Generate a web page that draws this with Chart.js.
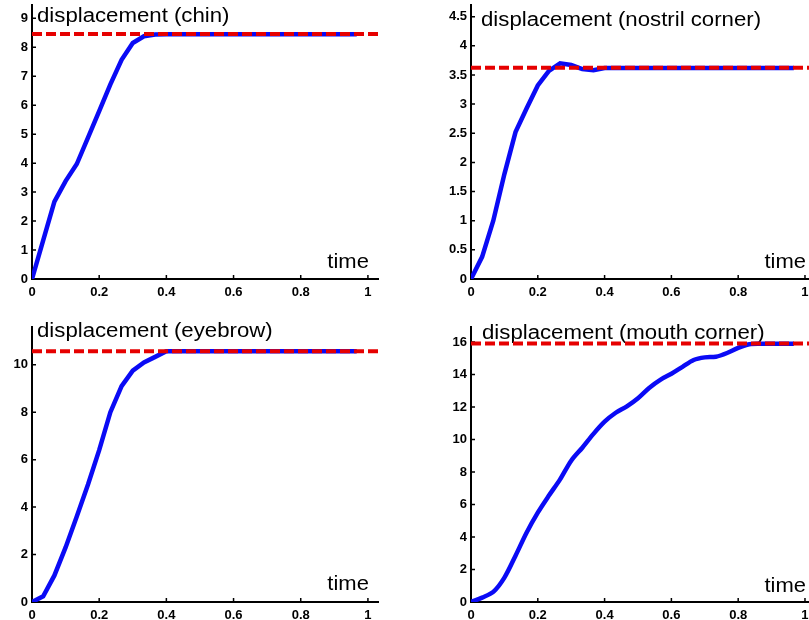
<!DOCTYPE html>
<html>
<head>
<meta charset="utf-8">
<script src="https://cdn.jsdelivr.net/npm/chart.js@4.4.1/dist/chart.umd.min.js"></script>
<style>
  html, body { margin: 0; padding: 0; background: #fff; overflow: hidden; width: 809px; height: 620px; }
  canvas { position: absolute; }
</style>
</head>
<body>
<canvas id="chin" width="400" height="306" style="left:0px;top:0px"></canvas>
<canvas id="nostril" width="398" height="306" style="left:439px;top:0px"></canvas>
<canvas id="eyebrow" width="400" height="320" style="left:0px;top:300px"></canvas>
<canvas id="mouth" width="398" height="320" style="left:439px;top:300px"></canvas>
<script>
// time samples of the tracked curves
const time = [0, 0.0333, 0.0667, 0.1, 0.1333, 0.1667, 0.2, 0.2333, 0.2667, 0.3,
  0.3333, 0.3667, 0.4, 0.4333, 0.4667, 0.5, 0.5333, 0.5667, 0.6, 0.6333,
  0.6667, 0.7, 0.7333, 0.7667, 0.8, 0.8333, 0.8667, 0.9, 0.9333, 0.9667];

// displacement curves (blue)
const chin = [0, 1.33, 2.67, 3.38, 3.97, 4.88, 5.8, 6.72, 7.57, 8.15,
  8.38, 8.44, 8.45, 8.45, 8.45, 8.45, 8.45, 8.45, 8.45, 8.45,
  8.45, 8.45, 8.45, 8.45, 8.45, 8.45, 8.45, 8.45, 8.45, 8.45];
const nostril = [0, 0.38, 1.0, 1.8, 2.52, 2.93, 3.32, 3.57, 3.7, 3.67,
  3.6, 3.58, 3.62, 3.62, 3.62, 3.62, 3.62, 3.62, 3.62, 3.62,
  3.62, 3.62, 3.62, 3.62, 3.62, 3.62, 3.62, 3.62, 3.62, 3.62];
const eyebrow = [0, 0.24, 1.12, 2.3, 3.6, 4.95, 6.4, 8.0, 9.1, 9.75,
  10.1, 10.33, 10.57, 10.57, 10.57, 10.57, 10.57, 10.57, 10.57, 10.57,
  10.57, 10.57, 10.57, 10.57, 10.57, 10.57, 10.57, 10.57, 10.57, 10.57];
const mouth = [0, 0.27, 0.62, 1.5, 2.85, 4.28, 5.5, 6.55, 7.55, 8.7,
  9.5, 10.35, 11.1, 11.65, 12.05, 12.55, 13.18, 13.68, 14.05, 14.48,
  14.9, 15.06, 15.1, 15.33, 15.65, 15.87, 15.9, 15.9, 15.9, 15.9];

// target displacement (red dashed)
const chinTarget = 8.46;
const nostrilTarget = 3.625;
const eyebrowTarget = 10.57;
const mouthTarget = 15.92;

// axes
const xTicks = [0, 0.2, 0.4, 0.6, 0.8, 1];
const xMax = 1.03;
const chinTicks = [0, 1, 2, 3, 4, 5, 6, 7, 8, 9];
const nostrilTicks = [0, 0.5, 1, 1.5, 2, 2.5, 3, 3.5, 4, 4.5];
const eyebrowTicks = [0, 2, 4, 6, 8, 10];
const mouthTicks = [0, 2, 4, 6, 8, 10, 12, 14, 16];

const tickFont = { family: '"Liberation Sans", Arial, sans-serif', size: 13, weight: 'bold' };
const textFont = '20px "Liberation Sans", Arial, sans-serif';

// inward tick marks plus the in-plot labels
const panelDecor = {
  id: 'panelDecor',
  beforeDatasetsDraw(chart, args, opts) {
    const { ctx, chartArea, scales } = chart;
    const x = scales.x, y = scales.y;
    ctx.save();
    ctx.strokeStyle = '#000';
    ctx.lineWidth = 1.5;
    ctx.beginPath();
    x.ticks.forEach((t) => {
      const px = x.getPixelForValue(t.value);
      ctx.moveTo(px, chartArea.bottom);
      ctx.lineTo(px, chartArea.bottom - 4);
    });
    y.ticks.forEach((t) => {
      const py = y.getPixelForValue(t.value);
      ctx.moveTo(chartArea.left, py);
      ctx.lineTo(chartArea.left + 4, py);
    });
    ctx.stroke();

    ctx.fillStyle = '#000';
    ctx.font = textFont;
    ctx.textBaseline = 'alphabetic';
    ctx.save();
    ctx.translate(chartArea.left + opts.titleDx, chartArea.top + opts.titleDy);
    ctx.scale(1.11, 1);
    ctx.textAlign = 'left';
    ctx.fillText(opts.title, 0, 0);
    ctx.restore();

    ctx.save();
    ctx.translate(x.getPixelForValue(1) + 1, chartArea.bottom - opts.timeDy);
    ctx.scale(1.1, 1);
    ctx.textAlign = 'right';
    ctx.fillText('time', 0, 0);
    ctx.restore();
    ctx.restore();
  },
};

function makePanel(id, values, target, yTicks, yMax, title, pos) {
  const curve = time.map((t, i) => ({ x: t, y: values[i] }));
  const level = [{ x: 0, y: target }, { x: xMax, y: target }];
  new Chart(document.getElementById(id), {
    type: 'line',
    data: {
      datasets: [
        {
          data: level,
          borderColor: '#e60000',
          borderWidth: 4,
          borderDash: [10, 4],
          pointRadius: 0,
          fill: false,
        },
        {
          data: curve,
          borderColor: '#0a0af5',
          borderWidth: 4.5,
          pointRadius: 0,
          tension: pos.tension,
          fill: false,
        },
      ],
    },
    options: {
      responsive: false,
      animation: false,
      events: [],
      layout: { padding: { top: pos.top, right: 22, left: 0, bottom: 0 } },
      plugins: {
        legend: { display: false },
        tooltip: { enabled: false },
        panelDecor: { title: title, titleDx: pos.titleDx, titleDy: pos.titleDy, timeDy: pos.timeDy },
      },
      scales: {
        x: {
          type: 'linear',
          min: 0,
          max: xMax,
          grid: { display: false, drawTicks: false },
          border: { display: true, color: '#000', width: 2 },
          ticks: { font: tickFont, color: '#000', padding: 6, maxRotation: 0, callback: (v) => String(v) },
          afterBuildTicks: (s) => { s.ticks = xTicks.map((v) => ({ value: v })); },
          afterFit: (s) => {
            s.height = pos.xHeight;
            s.paddingLeft = 0; s.paddingRight = 0; s.paddingTop = 0; s.paddingBottom = 0;
          },
        },
        y: {
          type: 'linear',
          min: 0,
          max: yMax,
          grid: { display: false, drawTicks: false },
          border: { display: true, color: '#000', width: 2 },
          ticks: { font: tickFont, color: '#000', padding: 4, callback: (v) => String(v) },
          afterBuildTicks: (s) => { s.ticks = yTicks.map((v) => ({ value: v })); },
          afterFit: (s) => {
            s.width = 32;
            s.paddingLeft = 0; s.paddingRight = 0; s.paddingTop = 0; s.paddingBottom = 0;
          },
        },
      },
    },
    plugins: [panelDecor],
  });
}

makePanel('chin', chin, chinTarget, chinTicks, 9.46, 'displacement (chin)',
  { top: 5, xHeight: 27, titleDx: 5, titleDy: 17, timeDy: 11, tension: 0 });
makePanel('nostril', nostril, nostrilTarget, nostrilTicks, 4.7, 'displacement (nostril corner)',
  { top: 5, xHeight: 27, titleDx: 10, titleDy: 21, timeDy: 11, tension: 0 });
makePanel('eyebrow', eyebrow, eyebrowTarget, eyebrowTicks, 11.59, 'displacement (eyebrow)',
  { top: 27, xHeight: 18, titleDx: 5, titleDy: 9.5, timeDy: 12, tension: 0 });
makePanel('mouth', mouth, mouthTarget, mouthTicks, 16.93, 'displacement (mouth corner)',
  { top: 27, xHeight: 18, titleDx: 11, titleDy: 12, timeDy: 10, tension: 0.3 });
</script>
</body>
</html>
